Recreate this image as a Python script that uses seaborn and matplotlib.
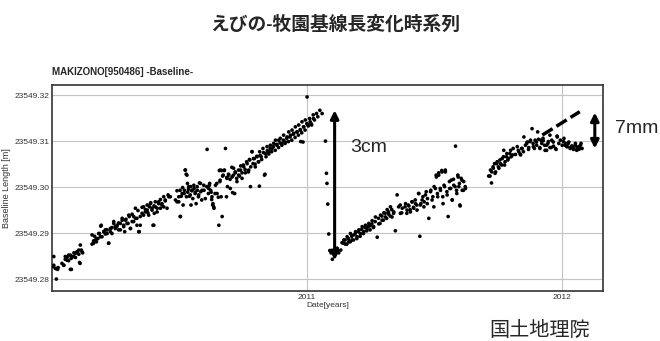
import pandas as pd
import matplotlib
matplotlib.use('Agg')
import matplotlib.pyplot as plt
import seaborn as sns
from matplotlib.ticker import FormatStrFormatter

# 2010-01 .. 2011-03 (before the quake)
t_before = [2010.007, 2010.004, 2010.013, 2010.017, 2010.022, 2010.039, 2010.046, 2010.052, 2010.059, 2010.065,
            2010.072, 2010.075, 2010.085, 2010.092, 2010.098, 2010.105, 2010.108, 2010.111, 2010.118, 2010.157,
            2010.163, 2010.170, 2010.176, 2010.183, 2010.190, 2010.193, 2010.203, 2010.209, 2010.216, 2010.222,
            2010.229, 2010.235, 2010.242, 2010.248, 2010.255, 2010.261, 2010.268, 2010.275, 2010.281, 2010.288,
            2010.294, 2010.301, 2010.307, 2010.314, 2010.320, 2010.327, 2010.333, 2010.340, 2010.346, 2010.353,
            2010.359, 2010.366, 2010.373, 2010.379, 2010.386, 2010.392, 2010.399, 2010.401, 2010.405, 2010.412,
            2010.418, 2010.425, 2010.431, 2010.438, 2010.444, 2010.451, 2010.458, 2010.464, 2010.484, 2010.490,
            2010.497, 2010.503, 2010.510, 2010.514, 2010.519, 2010.523, 2010.527, 2010.529, 2010.532, 2010.536,
            2010.542, 2010.545, 2010.549, 2010.556, 2010.562, 2010.569, 2010.575, 2010.582, 2010.588, 2010.595,
            2010.601, 2010.608, 2010.614, 2010.618, 2010.624, 2010.627, 2010.631, 2010.634, 2010.641, 2010.647,
            2010.654, 2010.658, 2010.660, 2010.663, 2010.667, 2010.671, 2010.676, 2010.680, 2010.684, 2010.686,
            2010.693, 2010.699, 2010.706, 2010.712, 2010.716, 2010.719, 2010.725, 2010.732, 2010.739, 2010.745,
            2010.752, 2010.758, 2010.765, 2010.771, 2010.775, 2010.778, 2010.784, 2010.788, 2010.793, 2010.797,
            2010.804, 2010.810, 2010.814, 2010.820, 2010.827, 2010.833, 2010.837, 2010.843, 2010.850, 2010.856,
            2010.863, 2010.869, 2010.876, 2010.882, 2010.889, 2010.895, 2010.902, 2010.908, 2010.915, 2010.922,
            2010.928, 2010.935, 2010.941, 2010.948, 2010.954, 2010.961, 2010.967, 2010.974, 2010.980, 2010.984,
            2010.987, 2010.993, 2011.000, 2011.003, 2011.010, 2011.016, 2011.024, 2011.029, 2011.037, 2011.042,
            2011.050, 2011.059]
len_before = [23549.2849, 23549.2827, 23549.2823, 23549.2800, 23549.2821, 23549.2834, 23549.2830, 23549.2849, 23549.2841, 23549.2852,
              23549.2821, 23549.2845, 23549.2849, 23549.2856, 23549.2859, 23549.2863, 23549.2836, 23549.2874, 23549.2859, 23549.2896,
              23549.2878, 23549.2885, 23549.2888, 23549.2899, 23549.2892, 23549.2917, 23549.2903, 23549.2907, 23549.2899, 23549.2878,
              23549.2910, 23549.2899, 23549.2925, 23549.2914, 23549.2917, 23549.2907, 23549.2921, 23549.2932, 23549.2914, 23549.2928,
              23549.2921, 23549.2939, 23549.2910, 23549.2925, 23549.2936, 23549.2954, 23549.2932, 23549.2903, 23549.2917, 23549.2943,
              23549.2957, 23549.2946, 23549.2950, 23549.2939, 23549.2964, 23549.2954, 23549.2917, 23549.2943, 23549.2957, 23549.2946,
              23549.2968, 23549.2954, 23549.2964, 23549.2957, 23549.2972, 23549.2954, 23549.2979, 23549.2979, 23549.2972, 23549.2968,
              23549.2979, 23549.2936, 23549.2986, 23549.2961, 23549.2993, 23549.3037, 23549.2979, 23549.3026, 23549.2989, 23549.3001,
              23549.2983, 23549.2961, 23549.2993, 23549.3004, 23549.2989, 23549.3001, 23549.2983, 23549.3008, 23549.2993, 23549.3004,
              23549.2975, 23549.3082, 23549.2997, 23549.3008, 23549.2989, 23549.2979, 23549.2964, 23549.2957, 23549.3004, 23549.2986,
              23549.2917, 23549.3012, 23549.3037, 23549.2979, 23549.2936, 23549.3026, 23549.3037, 23549.3084, 23549.2979, 23549.3019,
              23549.3026, 23549.2997, 23549.3022, 23549.3041, 23549.2986, 23549.3031, 23549.3012, 23549.3026, 23549.3037, 23549.3019,
              23549.3044, 23549.3031, 23549.3051, 23549.3037, 23549.3059, 23549.3001, 23549.3077, 23549.3051, 23549.3062, 23549.3044,
              23549.3066, 23549.3055, 23549.3077, 23549.3066, 23549.3084, 23549.3026, 23549.3073, 23549.3088, 23549.3077, 23549.3091,
              23549.3084, 23549.3095, 23549.3102, 23549.3091, 23549.3102, 23549.3106, 23549.3095, 23549.3113, 23549.3098, 23549.3109,
              23549.3120, 23549.3113, 23549.3124, 23549.3117, 23549.3131, 23549.3120, 23549.3135, 23549.3124, 23549.3142, 23549.3098,
              23549.3131, 23549.3146, 23549.3196, 23549.3135, 23549.3149, 23549.3138, 23549.3157, 23549.3146, 23549.3160, 23549.3153,
              23549.3167, 23549.3160]

# more daily solutions, same period
t_before_b = [2010.007, 2010.016, 2010.024, 2010.046, 2010.052, 2010.059, 2010.065, 2010.072, 2010.076, 2010.081,
              2010.086, 2010.092, 2010.098, 2010.105, 2010.110, 2010.115, 2010.120, 2010.157, 2010.163, 2010.167,
              2010.174, 2010.180, 2010.186, 2010.191, 2010.196, 2010.203, 2010.209, 2010.216, 2010.222, 2010.229,
              2010.235, 2010.242, 2010.248, 2010.255, 2010.261, 2010.268, 2010.275, 2010.281, 2010.285, 2010.290,
              2010.298, 2010.303, 2010.308, 2010.314, 2010.320, 2010.327, 2010.333, 2010.337, 2010.342, 2010.346,
              2010.353, 2010.359, 2010.366, 2010.373, 2010.376, 2010.382, 2010.387, 2010.392, 2010.396, 2010.400,
              2010.405, 2010.412, 2010.418, 2010.425, 2010.431, 2010.438, 2010.444, 2010.455, 2010.490, 2010.497,
              2010.503, 2010.507,
              2010.502, 2010.512, 2010.518, 2010.522, 2010.526, 2010.531, 2010.535, 2010.539, 2010.544, 2010.548,
              2010.552, 2010.557, 2010.561, 2010.565, 2010.570, 2010.574, 2010.578, 2010.583, 2010.587, 2010.596,
              2010.607, 2010.613, 2010.617, 2010.622, 2010.626, 2010.630, 2010.635, 2010.639, 2010.646, 2010.652,
              2010.656, 2010.659, 2010.665, 2010.669, 2010.675, 2010.685, 2010.688, 2010.692, 2010.698, 2010.705,
              2010.708, 2010.711, 2010.718, 2010.724, 2010.731, 2010.735, 2010.740, 2010.745, 2010.750, 2010.757,
              2010.763, 2010.770, 2010.774, 2010.779, 2010.784, 2010.790, 2010.796, 2010.803, 2010.809, 2010.813,
              2010.816, 2010.822, 2010.829, 2010.835, 2010.839, 2010.844, 2010.850, 2010.855, 2010.861, 2010.868,
              2010.875, 2010.881, 2010.888, 2010.894, 2010.901, 2010.907, 2010.914, 2010.920, 2010.927, 2010.933,
              2010.940, 2010.946, 2010.953, 2010.960, 2010.966, 2010.973, 2010.975, 2010.979, 2010.986, 2010.992,
              2010.999, 2011.005, 2011.012, 2011.018, 2011.025]
len_before_b = [23549.2830, 23549.2823, 23549.2825, 23549.2830, 23549.2843, 23549.2847, 23549.2840, 23549.2852, 23549.2821, 23549.2849,
                23549.2857, 23549.2847, 23549.2859, 23549.2854, 23549.2834, 23549.2863, 23549.2857, 23549.2876, 23549.2883, 23549.2893,
                23549.2881, 23549.2888, 23549.2899, 23549.2915, 23549.2892, 23549.2903, 23549.2898, 23549.2907, 23549.2878, 23549.2903,
                23549.2912, 23549.2921, 23549.2910, 23549.2915, 23549.2922, 23549.2907, 23549.2928, 23549.2917, 23549.2903, 23549.2930,
                23549.2921, 23549.2936, 23549.2910, 23549.2941, 23549.2925, 23549.2932, 23549.2917, 23549.2949, 23549.2903, 23549.2936,
                23549.2956, 23549.2939, 23549.2951, 23549.2961, 23549.2944, 23549.2957, 23549.2966, 23549.2950, 23549.2917, 23549.2959,
                23549.2968, 23549.2954, 23549.2964, 23549.2973, 23549.2961, 23549.2979, 23549.2970, 23549.2983, 23549.2992, 23549.2968,
                23549.2936, 23549.2980,
                23549.2993, 23549.2999, 23549.2986, 23549.3037, 23549.3028, 23549.3008, 23549.2995, 23549.2980, 23549.3001, 23549.2992,
                23549.2975, 23549.2997, 23549.2986, 23549.2964, 23549.2993, 23549.2979, 23549.3009, 23549.2990, 23549.2972, 23549.2993,
                23549.3001, 23549.2986, 23549.3004, 23549.2993, 23549.2973, 23549.2961, 23549.2954, 23549.2986, 23549.3008, 23549.2978,
                23549.3036, 23549.3015, 23549.3036, 23549.3024, 23549.3036, 23549.3021, 23549.3001, 23549.3028, 23549.3017, 23549.3043,
                23549.2988, 23549.3026, 23549.3033, 23549.3019, 23549.3037, 23549.3024, 23549.3046, 23549.3031, 23549.3048, 23549.3038,
                23549.3055, 23549.3033, 23549.3060, 23549.3044, 23549.3077, 23549.3062, 23549.3050, 23549.3067, 23549.3055, 23549.3002,
                23549.3069, 23549.3060, 23549.3075, 23549.3028, 23549.3066, 23549.3079, 23549.3072, 23549.3084, 23549.3077, 23549.3088,
                23549.3080, 23549.3093, 23549.3086, 23549.3096, 23549.3091, 23549.3102, 23549.3095, 23549.3106, 23549.3099, 23549.3109,
                23549.3102, 23549.3115, 23549.3108, 23549.3120, 23549.3113, 23549.3125, 23549.3099, 23549.3118, 23549.3131, 23549.3124,
                23549.3138, 23549.3133, 23549.3142, 23549.3135, 23549.3149]

# the jump of 2011-03
t_jump = [2011.072, 2011.076, 2011.078, 2011.081, 2011.085, 2011.089, 2011.094, 2011.099, 2011.105, 2011.111, 2011.118, 2011.124]
len_jump = [23549.3100, 23549.3030, 23549.3008, 23549.2963, 23549.2898, 23549.2862, 23549.2857, 23549.2843, 23549.2856, 23549.2862,
            23549.2867, 23549.2857]

# 2011-03 .. 2011-08
t_after = [2011.137, 2011.144, 2011.150, 2011.157, 2011.163, 2011.170, 2011.176, 2011.183, 2011.190, 2011.196,
           2011.203, 2011.209, 2011.216, 2011.222, 2011.229, 2011.235, 2011.242, 2011.248, 2011.255, 2011.261,
           2011.268, 2011.275, 2011.281, 2011.288, 2011.294, 2011.301, 2011.307, 2011.314, 2011.320, 2011.327,
           2011.333, 2011.340, 2011.346, 2011.353, 2011.359, 2011.366, 2011.373, 2011.386, 2011.392, 2011.399,
           2011.405, 2011.412, 2011.418, 2011.425, 2011.431, 2011.438, 2011.442, 2011.444, 2011.451, 2011.458,
           2011.464, 2011.471, 2011.477, 2011.484, 2011.490, 2011.497, 2011.503, 2011.507, 2011.512, 2011.516,
           2011.523, 2011.529, 2011.533, 2011.539, 2011.542, 2011.549, 2011.553, 2011.559, 2011.565, 2011.569,
           2011.575, 2011.582, 2011.586, 2011.591, 2011.595, 2011.599, 2011.604, 2011.608, 2011.614, 2011.621,
           2011.132, 2011.143, 2011.149, 2011.156, 2011.162, 2011.169, 2011.175, 2011.182, 2011.188, 2011.195,
           2011.201, 2011.208, 2011.214, 2011.221, 2011.227, 2011.234, 2011.241, 2011.247, 2011.254, 2011.260,
           2011.267, 2011.280, 2011.286, 2011.293, 2011.299, 2011.306, 2011.312, 2011.319, 2011.326, 2011.332,
           2011.339, 2011.365, 2011.371, 2011.384, 2011.391, 2011.397, 2011.404, 2011.411, 2011.417, 2011.424,
           2011.430, 2011.437, 2011.446, 2011.454, 2011.459, 2011.467, 2011.472, 2011.485, 2011.493, 2011.498,
           2011.506, 2011.511, 2011.516, 2011.522, 2011.528, 2011.532, 2011.537, 2011.542, 2011.548, 2011.558,
           2011.563, 2011.569, 2011.574, 2011.580, 2011.587, 2011.592, 2011.597, 2011.600, 2011.607, 2011.613,
           2011.620]
len_after = [23549.2879, 23549.2885, 23549.2876, 23549.2892, 23549.2881, 23549.2899, 23549.2885, 23549.2896, 23549.2903, 23549.2892,
             23549.2907, 23549.2899, 23549.2914, 23549.2903, 23549.2917, 23549.2910, 23549.2921, 23549.2916, 23549.2927, 23549.2914,
             23549.2935, 23549.2891, 23549.2920, 23549.2939, 23549.2928, 23549.2944, 23549.2935, 23549.2951, 23549.2941, 23549.2957,
             23549.2935, 23549.2946, 23549.2905, 23549.2983, 23549.2957, 23549.2943, 23549.2954, 23549.2964, 23549.2950, 23549.2959,
             23549.2946, 23549.2968, 23549.2954, 23549.2964, 23549.2950, 23549.2986, 23549.2893, 23549.2961, 23549.2972, 23549.2957,
             23549.2983, 23549.2964, 23549.2932, 23549.2990, 23549.2972, 23549.2957, 23549.2997, 23549.3022, 23549.2979, 23549.3026,
             23549.2993, 23549.3033, 23549.2964, 23549.3001, 23549.3037, 23549.2983, 23549.2936, 23549.2997, 23549.3015, 23549.2972,
             23549.3004, 23549.3089, 23549.2993, 23549.3026, 23549.3001, 23549.2961, 23549.3019, 23549.2993, 23549.3012, 23549.2997,
             23549.2863, 23549.2878, 23549.2885, 23549.2876, 23549.2888, 23549.2881, 23549.2893, 23549.2885, 23549.2898, 23549.2888,
             23549.2903, 23549.2893, 23549.2908, 23549.2899, 23549.2912, 23549.2905, 23549.2915, 23549.2907, 23549.2920, 23549.2912,
             23549.2925, 23549.2932, 23549.2921, 23549.2937, 23549.2928, 23549.2943, 23549.2932, 23549.2946, 23549.2937, 23549.2951,
             23549.2943, 23549.2961, 23549.2944, 23549.2957, 23549.2943, 23549.2961, 23549.2951, 23549.2968, 23549.2956, 23549.2972,
             23549.2961, 23549.2986, 23549.2964, 23549.2979, 23549.2968, 23549.2990, 23549.2975, 23549.2993, 23549.2979, 23549.3001,
             23549.3026, 23549.2986, 23549.3031, 23549.2997, 23549.3036, 23549.2979, 23549.3004, 23549.3033, 23549.2990, 23549.3012,
             23549.2997, 23549.2972, 23549.3017, 23549.3001, 23549.2986, 23549.3022, 23549.3008, 23549.2959, 23549.3015, 23549.2993,
             23549.3001]

# 2011-09 .. 2012-02
t_late = [2011.712, 2011.719, 2011.723, 2011.729, 2011.735, 2011.739, 2011.745, 2011.752, 2011.758, 2011.765,
          2011.771, 2011.774, 2011.782, 2011.787, 2011.795, 2011.800, 2011.808, 2011.817, 2011.824, 2011.830,
          2011.837, 2011.843, 2011.850, 2011.856, 2011.863, 2011.869, 2011.876, 2011.882, 2011.886, 2011.891,
          2011.899, 2011.904, 2011.912, 2011.917, 2011.925, 2011.931, 2011.939, 2011.944, 2011.952, 2011.957,
          2011.965, 2011.974, 2011.980, 2011.987, 2011.993, 2012.000, 2012.007, 2012.013, 2012.020, 2012.026,
          2012.033, 2012.039, 2012.046, 2012.052, 2012.059, 2012.065, 2012.072, 2012.078,
          2011.717, 2011.724, 2011.730, 2011.737, 2011.743, 2011.750, 2011.756, 2011.763, 2011.770, 2011.776,
          2011.783, 2011.789, 2011.798, 2011.806, 2011.828, 2011.835, 2011.841, 2011.848, 2011.861, 2011.868,
          2011.874, 2011.887, 2011.894, 2011.900, 2011.907, 2011.913, 2011.920, 2011.926, 2011.933, 2011.939,
          2011.946, 2011.952, 2011.959, 2011.966, 2011.976, 2011.981, 2012.005, 2012.011, 2012.018, 2012.024,
          2012.031, 2012.037, 2012.044, 2012.051, 2012.057, 2012.064, 2012.070, 2012.074]
len_late = [23549.3024, 23549.3037, 23549.3009, 23549.3044, 23549.3051, 23549.3033, 23549.3055, 23549.3041, 23549.3051, 23549.3062,
            23549.3080, 23549.3048, 23549.3066, 23549.3059, 23549.3073, 23549.3066, 23549.3084, 23549.3071, 23549.3088, 23549.3077,
            23549.3070, 23549.3084, 23549.3109, 23549.3091, 23549.3098, 23549.3086, 23549.3102, 23549.3127, 23549.3095, 23549.3084,
            23549.3098, 23549.3120, 23549.3086, 23549.3102, 23549.3106, 23549.3091, 23549.3080, 23549.3095, 23549.3113, 23549.3086,
            23549.3098, 23549.3084, 23549.3111, 23549.3095, 23549.3102, 23549.3091, 23549.3106, 23549.3095, 23549.3088, 23549.3098,
            23549.3086, 23549.3089, 23549.3084, 23549.3095, 23549.3086, 23549.3082, 23549.3091, 23549.3084,
            23549.3024, 23549.3033, 23549.3041, 23549.3030, 23549.3051, 23549.3044, 23549.3059, 23549.3048, 23549.3066, 23549.3055,
            23549.3073, 23549.3062, 23549.3080, 23549.3070, 23549.3080, 23549.3072, 23549.3084, 23549.3077, 23549.3095, 23549.3082,
            23549.3099, 23549.3088, 23549.3102, 23549.3091, 23549.3104, 23549.3084, 23549.3095, 23549.3101, 23549.3080, 23549.3091,
            23549.3099, 23549.3086, 23549.3102, 23549.3089, 23549.3082, 23549.3109, 23549.3099, 23549.3091, 23549.3088, 23549.3095,
            23549.3084, 23549.3089, 23549.3082, 23549.3091, 23549.3080, 23549.3088, 23549.3084, 23549.3095]

# extrapolated trend (dashed)
trend_t = [2011.922, 2012.069]
trend_len = [23549.3113, 23549.3164]

# arrows: 3cm jump and 7mm deficit
jump_arrow_t = 2011.108
jump_arrow_len = [23549.3167, 23549.2841]
gap_arrow_t = 2012.128
gap_arrow_len = [23549.3162, 23549.3084]

yticks = [23549.28, 23549.29, 23549.30, 23549.31, 23549.32]
xticks = [2011, 2012]

df = pd.DataFrame({
    'year': t_before + t_before_b + t_jump + t_after + t_late,
    'length': len_before + len_before_b + len_jump + len_after + len_late,
})

sns.set_style('white')
plt.rcParams['font.family'] = ['Liberation Sans', 'Noto Sans CJK JP']

fig = plt.figure(figsize=(6.6, 3.41), dpi=100)
ax = fig.add_axes([0.0788, 0.1466, 0.8348, 0.6041])

sns.scatterplot(data=df, x='year', y='length', color='black', s=7, edgecolor='none', ax=ax, zorder=3)
sns.lineplot(x=trend_t, y=trend_len, color='black', lw=2.5, ax=ax, zorder=3)
ax.lines[-1].set_linestyle((0, (3.5, 1.3)))

for t, (top, bot) in [(jump_arrow_t, jump_arrow_len), (gap_arrow_t, gap_arrow_len)]:
    ax.annotate('', xy=(t, bot), xytext=(t, top),
                arrowprops=dict(arrowstyle='<|-|>', color='black', lw=2.2, mutation_scale=12,
                                shrinkA=0, shrinkB=0), annotation_clip=False)

ax.text(2011.169, 23549.3087, '3cm', fontsize=14, va='center', ha='left')
ax.text(2012.208, 23549.3128, '7mm', fontsize=14, va='center', ha='left', clip_on=False)

ax.set_xlim(2010.0, 2012.16)
ax.set_ylim(23549.2774, 23549.3222)
ax.set_xticks(xticks)
ax.set_xticklabels([str(x) for x in xticks])
ax.set_yticks(yticks)
ax.yaxis.set_major_formatter(FormatStrFormatter('%.2f'))
ax.grid(True, color='#c4c4c4', lw=0.8)
ax.set_axisbelow(True)
ax.tick_params(labelsize=6, colors='#333333', length=2, direction='in', pad=2)
for s in ax.spines.values():
    s.set_color('#333333')
    s.set_linewidth(1.2)
ax.set_xlabel('Date[years]', fontsize=6, labelpad=1, color='#333333')
ax.set_ylabel('Baseline Length [m]', fontsize=6.5, labelpad=2, color='#333333')

ax.text(0.0, 1.04, 'MAKIZONO[950486] -Baseline-', transform=ax.transAxes, fontsize=7, fontweight='bold', va='bottom')
fig.text(0.508, 0.927, 'えびの-牧園基線長変化時系列', fontsize=13.5, fontweight='bold', ha='center', va='center')
fig.text(0.818, 0.032, '国土地理院', fontsize=14.5, ha='center', va='center')

plt.savefig('out.png', dpi=100)
